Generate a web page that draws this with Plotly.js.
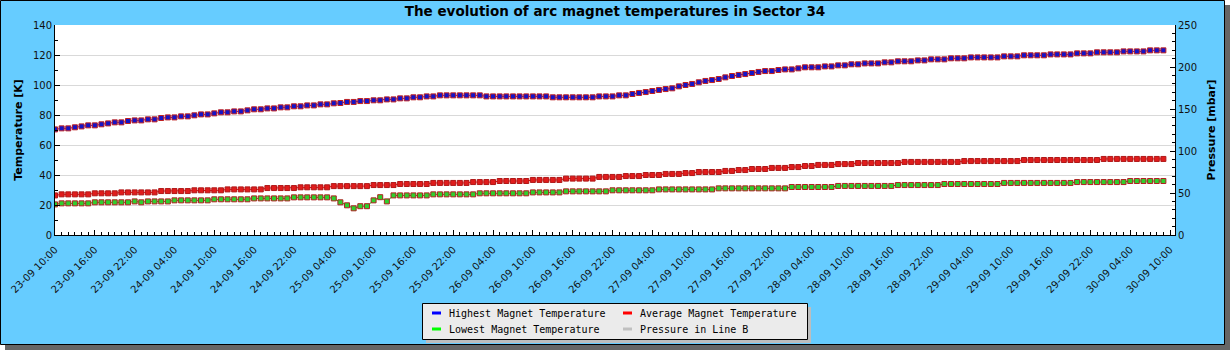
<!DOCTYPE html>
<html>
<head>
<meta charset="utf-8">
<script src="https://cdn.plot.ly/plotly-3.0.1.min.js"></script>
<style>
html, body { margin: 0; padding: 0; background: #ffffff; }
#chart { width: 1230px; height: 350px; }
</style>
</head>
<body>
<div id="chart"></div>
<script>
// ---------------- DATA ----------------
const startTime = Date.UTC(2008, 8, 23, 10, 0); // 23-09 10:00, hourly samples
const stepMs = 3600 * 1000;

const highestTemp = [
  70.4, 71.1, 71.1, 71.8, 72.4, 73.1, 73.1, 73.8, 74.4, 75.1,
  75.1, 76.0, 76.4, 76.4, 77.1, 77.1, 78.0, 78.4, 78.4, 79.1,
  79.1, 79.8, 80.4, 80.4, 81.1, 81.8, 81.8, 82.4, 82.4, 83.1,
  83.8, 83.8, 84.4, 84.4, 85.1, 85.1, 85.8, 85.8, 86.4, 86.4,
  87.1, 87.1, 87.8, 88.0, 88.7, 88.7, 89.3, 89.3, 89.8, 89.8,
  90.4, 90.4, 91.1, 91.1, 91.8, 91.8, 92.4, 92.4, 93.1, 93.1,
  93.1, 93.1, 93.1, 93.1, 93.1, 92.4, 92.4, 92.4, 92.4, 92.4,
  92.4, 92.4, 92.4, 92.4, 92.4, 91.8, 91.8, 91.8, 91.8, 91.8,
  91.8, 91.8, 92.4, 92.4, 92.4, 93.1, 93.1, 94.0, 94.7, 95.3,
  96.0, 96.7, 97.3, 97.8, 99.1, 100.0, 100.7, 101.8, 102.7, 103.3,
  104.0, 105.1, 106.0, 106.7, 107.3, 108.0, 108.7, 109.3, 109.3, 110.0,
  110.4, 110.4, 111.1, 111.8, 111.8, 111.8, 112.4, 112.4, 113.1, 113.1,
  113.8, 113.8, 114.4, 114.4, 114.4, 115.1, 115.1, 115.8, 115.8, 115.8,
  116.4, 116.4, 117.1, 117.1, 117.1, 117.8, 117.8, 117.8, 118.4, 118.4,
  118.4, 118.4, 118.4, 119.1, 119.1, 119.1, 119.8, 119.8, 119.8, 119.8,
  120.4, 120.4, 120.4, 120.4, 121.1, 121.1, 121.1, 121.8, 121.8, 121.8,
  121.8, 122.4, 122.4, 122.4, 122.4, 123.1, 123.1, 123.1
];

const averageTemp = [
  26.4, 27.1, 27.1, 27.1, 27.1, 27.1, 27.8, 27.8, 27.8, 27.8,
  28.4, 28.4, 28.4, 28.4, 28.4, 28.4, 29.3, 29.3, 29.3, 29.3,
  29.3, 29.8, 29.8, 29.8, 29.8, 29.8, 30.4, 30.4, 30.4, 30.4,
  30.4, 30.4, 31.3, 31.3, 31.3, 31.3, 31.3, 31.8, 31.8, 31.8,
  31.8, 31.8, 32.6, 32.6, 32.6, 32.6, 32.6, 32.6, 33.3, 33.3,
  33.3, 33.3, 34.0, 34.0, 34.0, 34.0, 34.0, 34.7, 34.7, 34.7,
  34.7, 34.7, 34.7, 35.3, 35.3, 35.3, 35.3, 36.0, 36.0, 36.0,
  36.0, 36.0, 36.7, 36.7, 36.7, 36.7, 36.7, 37.6, 37.6, 37.6,
  37.6, 37.6, 38.7, 38.7, 38.7, 38.7, 39.3, 39.3, 39.3, 40.0,
  40.0, 40.0, 40.7, 40.7, 40.7, 41.3, 41.3, 42.0, 42.0, 42.0,
  42.0, 42.7, 42.7, 43.3, 43.3, 44.0, 44.0, 44.0, 44.7, 44.7,
  44.7, 45.3, 45.3, 46.0, 46.0, 46.7, 46.7, 46.7, 47.3, 47.3,
  47.3, 48.0, 48.0, 48.0, 48.0, 48.0, 48.0, 48.0, 48.7, 48.7,
  48.7, 48.7, 48.7, 48.7, 48.7, 48.7, 48.7, 49.3, 49.3, 49.3,
  49.3, 49.3, 49.3, 49.3, 49.3, 49.3, 50.0, 50.0, 50.0, 50.0,
  50.0, 50.0, 50.0, 50.0, 50.0, 50.0, 50.0, 50.0, 50.7, 50.7,
  50.7, 50.7, 50.7, 50.7, 50.7, 50.7, 50.7, 50.7
];

const lowestTemp = [
  20.4, 21.1, 21.1, 21.1, 21.1, 21.1, 21.8, 21.8, 21.8, 21.8,
  21.8, 21.8, 22.4, 21.8, 22.4, 22.4, 22.4, 22.4, 23.1, 23.1,
  23.1, 23.1, 23.1, 23.1, 23.8, 23.8, 23.8, 23.8, 23.8, 23.8,
  24.4, 24.4, 24.4, 24.4, 24.4, 24.4, 25.1, 25.1, 25.1, 25.1,
  25.1, 25.1, 24.4, 21.8, 19.8, 17.8, 19.2, 19.2, 23.1, 25.2,
  22.4, 26.4, 26.4, 26.4, 26.4, 26.4, 26.4, 27.1, 27.1, 27.1,
  27.1, 27.1, 27.1, 27.1, 27.8, 27.8, 27.8, 27.8, 27.8, 27.8,
  27.8, 27.8, 28.4, 28.4, 28.4, 28.4, 28.4, 29.1, 29.1, 29.1,
  29.1, 29.1, 29.1, 29.1, 29.8, 29.8, 29.8, 29.8, 29.8, 29.8,
  29.8, 30.4, 30.4, 30.4, 30.4, 30.4, 30.4, 30.4, 30.4, 30.4,
  31.1, 31.1, 31.1, 31.1, 31.1, 31.1, 31.1, 31.1, 31.1, 31.1,
  31.1, 32.0, 32.0, 32.0, 32.0, 32.0, 32.0, 32.0, 32.7, 32.7,
  32.7, 32.7, 32.7, 32.7, 32.7, 32.7, 32.7, 33.3, 33.3, 33.3,
  33.3, 33.3, 33.3, 33.3, 34.0, 34.0, 34.0, 34.0, 34.0, 34.0,
  34.0, 34.0, 34.0, 34.7, 34.7, 34.7, 34.7, 34.7, 34.7, 34.7,
  34.7, 34.7, 34.7, 34.7, 35.3, 35.3, 35.3, 35.3, 35.3, 35.3,
  35.3, 35.3, 36.0, 36.0, 36.0, 36.0, 36.0, 36.0
];

const pressureLineB = [];      // no pressure samples are drawn in the reference
const pressureTimes = [];

const seriesNames = [
  'Highest Magnet Temperature',
  'Average Magnet Temperature',
  'Lowest Magnet Temperature',
  'Pressure in Line B'
];
const legendColors = ['#0000ff', '#ff0000', '#00ff00', '#c0c0c0'];

const chartTitle = 'The evolution of arc magnet temperatures in Sector 34';
const yTitle = 'Temperature [K]';
const y2Title = 'Pressure [mbar]';

// ---------------- LAYOUT HELPERS ----------------
const W = 1230, H = 350;
const M = { l: 55, r: 55, t: 25, b: 115 };
const PW = W - M.l - M.r, PH = H - M.t - M.b;
const px = x => (x - M.l) / PW;
const py = y => (H - M.b - y) / PH;

function fmt(ms) {
  return new Date(ms).toISOString().replace('T', ' ').slice(0, 16);
}
const times = highestTemp.map((_, i) => fmt(startTime + i * stepMs));

const font = 'DejaVu Sans';
const monoFont = 'DejaVu Sans Mono';

const traces = [
  {
    x: times, y: highestTemp, type: 'scatter', mode: 'lines+markers',
    name: seriesNames[0],
    line: { color: '#0000ff', width: 1 },
    marker: { symbol: 'square', size: 5, color: '#1414c8', line: { color: '#c02020', width: 1 } }
  },
  {
    x: times, y: averageTemp, type: 'scatter', mode: 'lines+markers',
    name: seriesNames[1],
    line: { color: '#ff0000', width: 1 },
    marker: { symbol: 'square', size: 5, color: '#e01c1c', line: { color: '#b01818', width: 1 } }
  },
  {
    x: times, y: lowestTemp, type: 'scatter', mode: 'lines+markers',
    name: seriesNames[2],
    line: { color: '#00c000', width: 1 },
    marker: { symbol: 'square', size: 5, color: '#2ed02e', line: { color: '#b02020', width: 1 } }
  },
  {
    x: pressureTimes, y: pressureLineB, type: 'scatter', mode: 'lines',
    name: seriesNames[3], yaxis: 'y2',
    line: { color: '#c0c0c0', width: 1 }
  }
];

// ---- legend box (JpGraph style) drawn as shapes + text ----
const legBox = { x0: 422, x1: 807, y0: 303, y1: 339 };
const legCols = [432, 623];     // swatch left edges
const legRows = [313, 329];     // row centres
const legendShapes = [
  { type: 'rect', xref: 'paper', yref: 'paper', layer: 'above',
    x0: px(legBox.x0 + 4), x1: px(legBox.x1 + 4), y0: py(legBox.y0 + 4), y1: py(legBox.y1 + 4),
    fillcolor: '#bdbdbd', line: { width: 0 } },
  { type: 'rect', xref: 'paper', yref: 'paper', layer: 'above',
    x0: px(legBox.x0 + 0.5), x1: px(legBox.x1 + 0.5), y0: py(legBox.y0 + 0.5), y1: py(legBox.y1 + 0.5),
    fillcolor: '#ebebeb', line: { color: '#000000', width: 1 } }
];
const legendTexts = [];
seriesNames.forEach((name, i) => {
  const cx = legCols[i % 2], cy = legRows[Math.floor(i / 2)];
  legendShapes.push({ type: 'rect', xref: 'paper', yref: 'paper', layer: 'above',
    x0: px(cx), x1: px(cx + 9), y0: py(cy - 1.5), y1: py(cy + 1.5),
    fillcolor: legendColors[i], line: { width: 0 } });
  legendTexts.push({ xref: 'paper', yref: 'paper', x: px(cx + 15), y: py(cy),
    xanchor: 'left', yanchor: 'middle', showarrow: false, text: name,
    font: { family: monoFont, size: 10, color: '#000000' } });
});

const layout = {
  width: W, height: H,
  margin: M,
  paper_bgcolor: '#ffffff',
  plot_bgcolor: '#ffffff',
  font: { family: font, size: 10, color: '#000000' },
  showlegend: false,
  title: {
    text: chartTitle,
    font: { family: font, size: 13.5, weight: 'bold', color: '#000000' },
    x: 0.5, xref: 'container', xanchor: 'center',
    y: 1 - 11 / H, yref: 'container', yanchor: 'middle'
  },
  xaxis: {
    type: 'date', automargin: false,
    range: ['2008-09-23 10:00', '2008-09-30 10:45'],
    tick0: '2008-09-23 10:00',
    dtick: 6 * 3600 * 1000,
    tickformat: '%d-%m %H:%M',
    tickangle: -45,
    ticklabelstandoff: 4,
    tickfont: { family: font, size: 10, color: '#111111' },
    ticks: 'inside', ticklen: 5, tickcolor: '#000000', tickwidth: 1,
    minor: { dtick: 3600 * 1000, ticks: 'inside', ticklen: 3, tickcolor: '#000000', showgrid: false },
    showline: true, linecolor: '#000000', linewidth: 1,
    showgrid: false, zeroline: false, fixedrange: true
  },
  yaxis: {
    automargin: false,
    range: [0, 140], dtick: 20, tick0: 0,
    ticks: 'inside', ticklen: 5, tickcolor: '#000000',
    minor: { dtick: 10, ticks: 'inside', ticklen: 3, tickcolor: '#000000', showgrid: false },
    tickfont: { family: font, size: 10, color: '#111111' },
    showline: true, linecolor: '#000000', linewidth: 1,
    showgrid: true, gridcolor: '#d9d9d9', gridwidth: 1,
    zeroline: false,
    title: { text: yTitle, font: { family: font, size: 11, weight: 'bold', color: '#000000' }, standoff: 8 }
  },
  yaxis2: {
    automargin: false,
    overlaying: 'y', side: 'right',
    range: [0, 250], dtick: 50, tick0: 0,
    ticks: 'inside', ticklen: 5, tickcolor: '#000000',
    minor: { dtick: 10, ticks: 'inside', ticklen: 3, tickcolor: '#000000', showgrid: false },
    tickfont: { family: font, size: 10, color: '#111111' },
    showline: true, linecolor: '#000000', linewidth: 1,
    showgrid: false, zeroline: false,
    title: { text: y2Title, font: { family: font, size: 11, weight: 'bold', color: '#000000' }, standoff: 11 }
  },
  shapes: [
    // drop shadow of the whole chart
    { type: 'rect', xref: 'paper', yref: 'paper', layer: 'below',
      x0: px(5), x1: px(1231), y0: py(5), y1: py(351),
      fillcolor: '#666666', line: { width: 0 } },
    // light-blue chart frame with black border
    { type: 'rect', xref: 'paper', yref: 'paper', layer: 'below',
      x0: px(0.5), x1: px(1224.5), y0: py(0.5), y1: py(344.5),
      fillcolor: '#66ccff', line: { color: '#000000', width: 1 } },
    // white plotting area
    { type: 'rect', xref: 'paper', yref: 'paper', layer: 'below',
      x0: 0, x1: 1, y0: 0, y1: 1,
      fillcolor: '#ffffff', line: { width: 0 } }
  ].concat(legendShapes),
  annotations: legendTexts
};

Plotly.newPlot('chart', traces, layout, { displayModeBar: false, staticPlot: true });
</script>
</body>
</html>
